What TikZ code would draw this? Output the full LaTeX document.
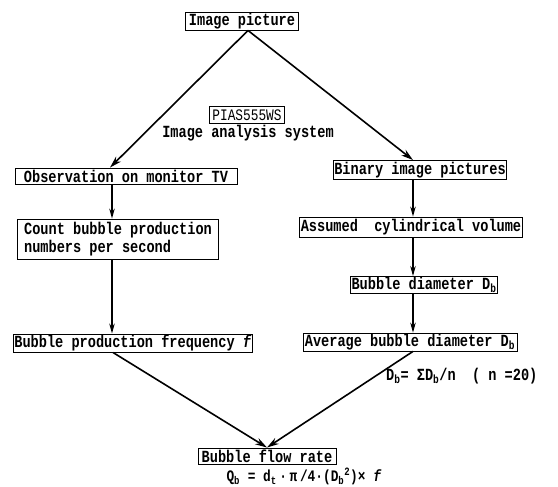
\documentclass[tikz,border=0pt]{standalone}
\usepackage{fontspec}
\setmonofont[FakeStretch=0.8]{Liberation Mono}
\usepackage{tikz}
\usetikzlibrary{arrows.meta,
    positioning}

\tikzset{
  stepbox/.style={draw, line width=0.9pt, inner sep=1pt, font=\ttfamily\bfseries\fontsize{17}{18}\selectfont},
  plain/.style={inner sep=0pt, font=\ttfamily\bfseries\fontsize{17}{18}\selectfont},
  arr/.style={line width=1.1pt, -{Stealth[length=10pt,width=5.5pt]}},
  darr/.style={line width=1.6pt, -{Stealth[length=12pt,width=7pt]}}
}
\newcommand{\Db}{D\textsubscript{b}}

\begin{document}
\begin{tikzpicture}[x=1pt,y=-1pt]
                  \useasboundingbox (0,0) rectangle (558,487);
                  \fill[white] (0,0) rectangle (558,487);
                  % boxes
                  \node[stepbox, minimum width=113pt, minimum height=18pt] (img) at (242,21) {Image picture};
                  \node[stepbox, minimum width=75pt, minimum height=17pt, font=\ttfamily\fontsize{16}{17}\selectfont] (pias) at (247,115) {PIAS555WS};
                  \node[plain] (sys) at (248,133) {Image analysis system};
                  \node[stepbox, minimum width=222pt, minimum height=16pt] (obs) at (126,176) {Observation on monitor TV};
                  \node[stepbox, minimum width=201pt, minimum height=40pt, align=left] (count) at (118,239) {Count bubble production\\numbers per second};
                  \node[stepbox, minimum width=238pt, minimum height=18pt] (freq) at (133,343) {Bubble production frequency \textit{f}};
                  \node[stepbox, minimum width=173pt, minimum height=19pt] (bin) at (420,170) {Binary image pictures};
                  \node[stepbox, minimum width=221pt, minimum height=20pt] (cyl) at (411,227) {Assumed\ \ cylindrical volume};
                  \node[stepbox, minimum width=146pt, minimum height=17pt] (diam) at (424,285) {Bubble diameter \Db};
                  \node[stepbox, minimum width=214pt, minimum height=17pt] (avg) at (410,342) {Average bubble diameter \Db};
                  \node[stepbox, minimum width=138pt, minimum height=16pt] (flow) at (267,456) {Bubble flow rate};
                  \node[plain, font=\ttfamily\bfseries\fontsize{16}{17}\selectfont] (qb) at (304,476.5) {Q\textsubscript{b} = d\textsubscript{t}\,·\,π\,/4·(\Db\textsuperscript{2})× \textit{f}};
                  \node[plain, anchor=west] (dbf) at (386,376) {\Db= Σ\Db/n\ \ ( n =20)};
                  % column guides
                  \coordinate (top) at (248,0);
                  \coordinate (lx) at (112,0);
                  \coordinate (rx) at (413,0);
                  \coordinate (mx) at (267,0);
                  \coordinate (ox) at (110,0);
                  \coordinate (fx) at (113,0);
                  % connectors
                  \draw[darr] (img.south -| top) -- (obs.north -| ox);
                  \draw[darr] (img.south -| top) -- (bin.north -| rx);
                  \draw[arr] (obs.south -| lx) -- (count.north -| lx);
                  \draw[arr] (count.south -| lx) -- (freq.north -| lx);
                  \draw[arr] (bin.south -| rx) -- (cyl.north -| rx);
                  \draw[arr] (cyl.south -| rx) -- (diam.north -| rx);
                  \draw[arr] (diam.south -| rx) -- (avg.north -| rx);
                  \draw[darr] (freq.south -| fx) -- (flow.north -| mx);
                  \draw[darr] (avg.south -| rx) -- (flow.north -| mx);
              \end{tikzpicture}
\end{document}
